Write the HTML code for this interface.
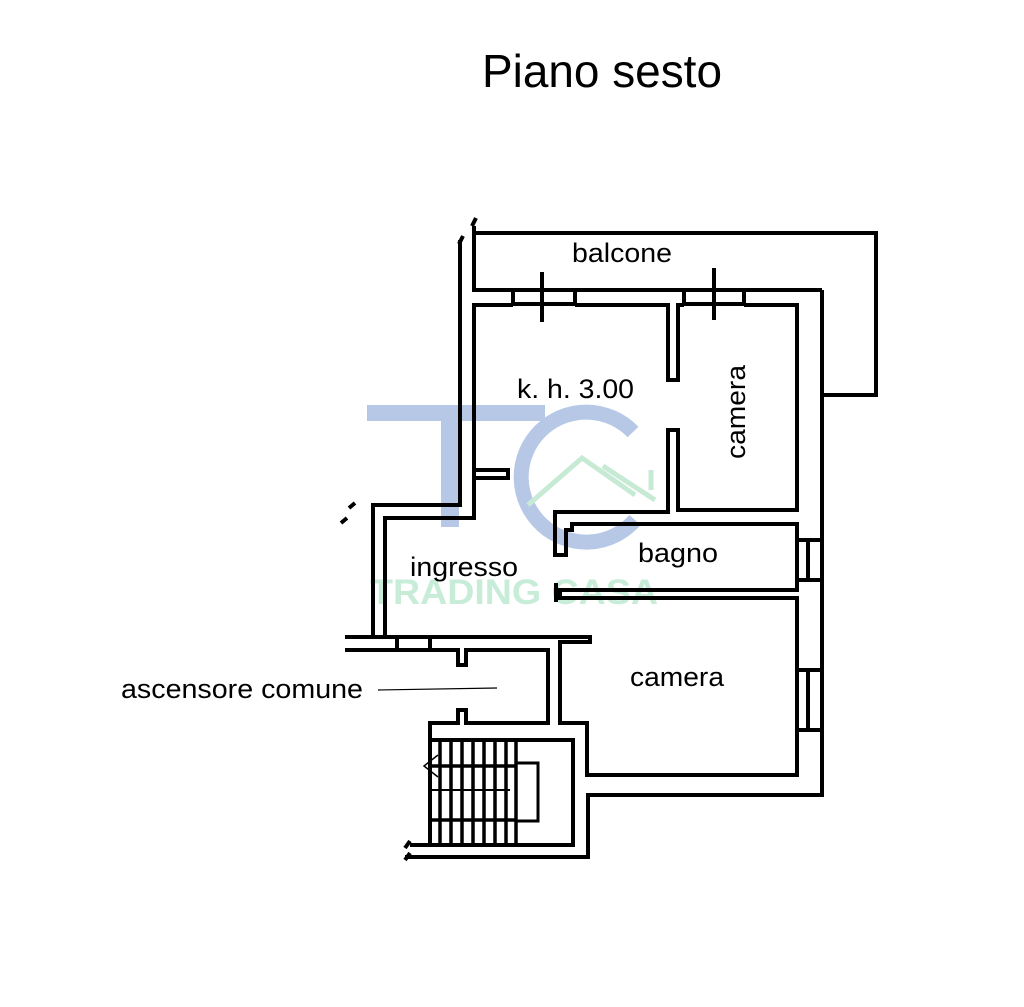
<!DOCTYPE html>
<html><head><style>
html,body{margin:0;padding:0;background:#fff;}
svg{display:block;}
text{font-family:"Liberation Sans",sans-serif;}
</style></head><body>
<svg width="1024" height="1007" viewBox="0 0 1024 1007" xmlns="http://www.w3.org/2000/svg">
<text x="602" y="87" font-size="46" text-anchor="middle" fill="#000" textLength="240" lengthAdjust="spacingAndGlyphs">Piano sesto</text>

<!-- watermark -->
<g opacity="0.75">
<rect x="367" y="405" width="178" height="16" fill="#9fb6df"/>
<rect x="441" y="405" width="18" height="122" fill="#9fb6df"/>
<path d="M633 432 A65 65 0 1 0 635 520" fill="none" stroke="#9fb6df" stroke-width="15"/>
<path d="M528 505 L582 458 L635 495 M603 466 L655 500 M651 470 L651 490" fill="none" stroke="#b5e3c8" stroke-width="5"/>
<text x="370" y="604" font-size="35" font-weight="bold" fill="#b5e6cc" textLength="288" lengthAdjust="spacingAndGlyphs">TRADING CASA</text>
</g>

<g fill="none" stroke="#000" stroke-width="4" stroke-linejoin="miter">
<!-- balcony -->
<polyline points="474,226 474,233 876,233 876,395 822,395"/>
<path d="M476 218 l-4 8 M463 236 l-4 8"/>
<!-- top wall outer -->
<polyline points="474,233 474,290 513,290"/>
<line x1="575" y1="290" x2="684" y2="290"/>
<line x1="744" y1="290" x2="822" y2="290"/>
<polyline points="822,290 822,540"/>
<line x1="822" y1="580" x2="822" y2="670"/>
<polyline points="822,730 822,795 588,795 588,857 405,857"/>
<!-- window boxes top -->
<rect x="513" y="290" width="62" height="14"/>
<rect x="684" y="290" width="60" height="14"/>
<line x1="542" y1="272" x2="542" y2="322"/>
<line x1="714" y1="268" x2="714" y2="320"/>
<!-- right windows -->
<rect x="797" y="540" width="25" height="40"/>
<line x1="808" y1="540" x2="808" y2="580"/>
<rect x="797" y="670" width="25" height="60"/>
<line x1="808" y1="670" x2="808" y2="730"/>
<!-- kitchen inner -->
<polyline points="513,305 474,305 474,478 508,478 508,470"/>
<polyline points="474,470 508,470 508,478"/>
<polyline points="474,478 474,518 385,518 385,637 345,637"/>
<polyline points="460,240 460,505 373,505 373,637"/>
<path d="M355 503 l-6 5 M347 518 l-6 5"/>
<polyline points="575,305 668,305 668,380 678,380 678,305 684,305"/>
<polyline points="744,305 797,305 797,510 678,510 678,430 668,430 668,512 555,512 555,555 566,555 566,530 572,530 572,524 797,524 797,540"/>
<!-- bagno bottom -->
<polyline points="797,580 797,590 560,590 560,598 797,598 797,670"/>
<line x1="556" y1="583" x2="556" y2="602"/>
<!-- ingresso bottom & ascensore -->
<polyline points="345,650 458,650 458,665 466,665 466,650 548,650 548,723 466,723 466,710 458,710 458,723 430,723 430,845 410,845"/>
<polyline points="345,637 590,637 590,642 560,642 560,723 587,723 587,775 797,775 797,730"/>
<line x1="430" y1="637" x2="430" y2="650"/>
<line x1="397" y1="637" x2="397" y2="650"/>
<path d="M410 853 l-5 7 M410 841 l-5 7"/>
<!-- stair box -->
<polyline points="430,740 573,740 573,845 430,845"/>
<rect x="516" y="763" width="22" height="58" stroke-width="3"/>
<line x1="430" y1="790" x2="510" y2="790" stroke-width="2"/>
</g>
<!-- stair treads -->
<g stroke="#000" stroke-width="3.5">
<line x1="440" y1="741" x2="440" y2="845"/><line x1="451" y1="741" x2="451" y2="845"/>
<line x1="462" y1="741" x2="462" y2="845"/><line x1="473" y1="741" x2="473" y2="845"/>
<line x1="484" y1="741" x2="484" y2="845"/><line x1="495" y1="741" x2="495" y2="845"/>
<line x1="506" y1="741" x2="506" y2="845"/><line x1="516" y1="741" x2="516" y2="845"/>
<line x1="430" y1="766" x2="516" y2="766"/><line x1="430" y1="820" x2="516" y2="820"/>
</g>
<path d="M438 755 L424 766 L438 777" fill="none" stroke="#000" stroke-width="1.5"/>
<line x1="378" y1="690" x2="497" y2="688" stroke="#000" stroke-width="1.2"/>

<g font-size="27" fill="#000">
<text x="572" y="262" textLength="100" lengthAdjust="spacingAndGlyphs">balcone</text>
<text x="517" y="398" textLength="117" lengthAdjust="spacingAndGlyphs">k. h. 3.00</text>
<text x="638" y="562" textLength="80" lengthAdjust="spacingAndGlyphs">bagno</text>
<text x="410" y="576" textLength="108" lengthAdjust="spacingAndGlyphs">ingresso</text>
<text x="630" y="686" textLength="94" lengthAdjust="spacingAndGlyphs">camera</text>
<text x="121" y="698" textLength="242" lengthAdjust="spacingAndGlyphs">ascensore comune</text>
<text transform="translate(745,459) rotate(-90)" textLength="94" lengthAdjust="spacingAndGlyphs">camera</text>
</g>
</svg>
</body></html>
